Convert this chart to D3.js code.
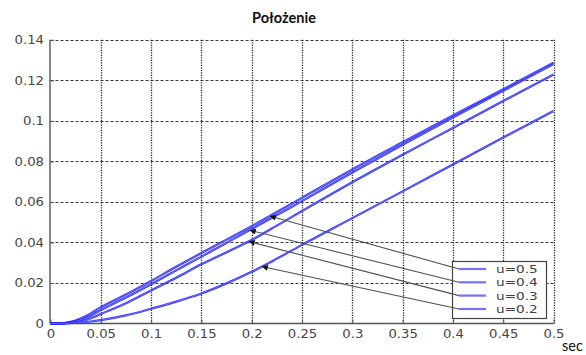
<!DOCTYPE html>
<html>
<head>
<meta charset="utf-8">
<script src="https://cdn.jsdelivr.net/npm/d3@7"></script>
<style>
  html, body { margin: 0; padding: 0; background: #fff; }
  svg { display: block; }
</style>
</head>
<body>
<svg id="chart" width="586" height="355"></svg>
<script>
// Time samples (s) and position series for each control value u
const timeSec = [0, 0.01, 0.02, 0.03, 0.04, 0.05, 0.075, 0.1, 0.125, 0.15, 0.175, 0.2, 0.225, 0.25, 0.3, 0.35, 0.4, 0.45, 0.5];
const posU05 = [0, 0.0001, 0.0008, 0.0025, 0.0050, 0.0080, 0.0143, 0.0210, 0.0280, 0.0348, 0.0414, 0.0480, 0.0550, 0.0620, 0.0760, 0.0894, 0.1026, 0.1156, 0.1287];
const posU04 = [0, 0.0001, 0.0006, 0.0018, 0.0038, 0.0066, 0.0128, 0.0194, 0.0262, 0.0330, 0.0398, 0.0466, 0.0535, 0.0604, 0.0745, 0.0882, 0.1016, 0.1148, 0.1280];
const posU03 = [0, 0, 0.0003, 0.0010, 0.0026, 0.0047, 0.0100, 0.0163, 0.0226, 0.0292, 0.0352, 0.0412, 0.0483, 0.0555, 0.0697, 0.0833, 0.0965, 0.1098, 0.1229];
const posU02 = [0, 0, 0.0002, 0.0005, 0.0010, 0.0017, 0.0040, 0.0073, 0.0108, 0.0148, 0.0198, 0.0255, 0.0320, 0.0388, 0.0520, 0.0652, 0.0785, 0.0918, 0.1049];

const legendLabels = ["u=0.5", "u=0.4", "u=0.3", "u=0.2"];
const seriesList = [posU05, posU04, posU03, posU02];
// time at which each legend callout points onto its curve
const calloutTime = [0.218, 0.198, 0.197, 0.21];

const xTicks = [0, 0.05, 0.1, 0.15, 0.2, 0.25, 0.3, 0.35, 0.4, 0.45, 0.5];
const yTicks = [0, 0.02, 0.04, 0.06, 0.08, 0.1, 0.12, 0.14];

const svg = d3.select("#chart");
const x = d3.scaleLinear().domain([0, 0.5]).range([50.5, 553.5]);
const y = d3.scaleLinear().domain([0, 0.14]).range([323.5, 39.8]);

const tickFont = "'DejaVu Sans', sans-serif";
const tickColor = "#454545";

// grid: dashed horizontals, dotted verticals
const grid = svg.append("g");
grid.selectAll("line.h").data(yTicks.filter(d => d > 0)).join("line")
  .attr("x1", x(0)).attr("x2", x(0.5))
  .attr("y1", d => Math.round(y(d)) + 0.5).attr("y2", d => Math.round(y(d)) + 0.5)
  .attr("stroke", "#3a3a3a").attr("stroke-width", 1.1)
  .attr("stroke-dasharray", "3,2");
grid.selectAll("line.v").data(xTicks.filter(d => d > 0)).join("line")
  .attr("x1", d => Math.round(x(d)) + 0.5).attr("x2", d => Math.round(x(d)) + 0.5)
  .attr("y1", y(0)).attr("y2", y(0.14))
  .attr("stroke", "#2a2a2a").attr("stroke-width", 1.3)
  .attr("stroke-dasharray", "1.2,1.3");

// axes
const xAxis = d3.axisBottom(x).tickValues(xTicks).tickSize(-4).tickPadding(8)
  .tickFormat(d => d === 0 ? "0" : String(+d.toFixed(2)));
const yAxis = d3.axisLeft(y).tickValues(yTicks).tickSize(-4).tickPadding(8)
  .tickFormat(d => d === 0 ? "0" : String(+d.toFixed(2)));

const gx = svg.append("g").attr("transform", `translate(0,${y(0)})`).call(xAxis);
const gy = svg.append("g").attr("transform", `translate(${x(0) - 0.5},0)`).call(yAxis);
[gx, gy].forEach(g => {
  g.select(".domain").attr("stroke", "#555").attr("stroke-width", 1.4);
  g.selectAll(".tick line").attr("stroke", "#555");
  g.selectAll(".tick text")
    .attr("font-family", tickFont).attr("font-size", 11.5)
    .attr("fill", tickColor);
});
gy.select(".domain").attr("d", `M0,${y(0)}V${y(0.14)}`);
gx.select(".domain").attr("d", `M${x(0)},0H${x(0.5)}`);
// widen the tick labels horizontally
gx.selectAll(".tick text").attr("transform", "scale(1.15,1)").attr("x", 0).attr("dy", "0.72em").attr("y", 6);
gy.selectAll(".tick text").each(function () {
  d3.select(this).attr("x", null).attr("text-anchor", "end")
    .attr("transform", "translate(-6,0) scale(1.15,1)");
});

// curves
const line = d3.line().x((d, i) => x(timeSec[i])).y(d => y(d)).curve(d3.curveMonotoneX);
const curves = svg.append("g");
seriesList.forEach(s => {
  curves.append("path").attr("d", line(s)).attr("fill", "none")
    .attr("stroke", "#1a1af8").attr("stroke-width", 2.2).attr("stroke-opacity", 0.9);
  curves.append("path").attr("d", line(s)).attr("fill", "none")
    .attr("stroke", "#b8b8ff").attr("stroke-width", 0.6).attr("stroke-opacity", 0.75);
});

// legend
const lg = { x0: 452, y0: 261, w: 94, h: 57, rowY: [269, 282.3, 295.6, 309] };
const sampleX1 = 459, sampleX2 = 486;

function valueAt(series, t) {
  const i = d3.bisectRight(timeSec, t) - 1;
  const t0 = timeSec[i], t1 = timeSec[i + 1];
  const f = (t - t0) / (t1 - t0);
  return series[i] + f * (series[i + 1] - series[i]);
}

// callout arrows from legend entries to the curves
const defs = svg.append("defs");
defs.append("marker").attr("id", "head")
  .attr("viewBox", "0 0 10 10").attr("refX", 10).attr("refY", 5)
  .attr("markerWidth", 9).attr("markerHeight", 6).attr("markerUnits", "userSpaceOnUse")
  .attr("orient", "auto")
  .append("path").attr("d", "M0,0L10,5L0,10Z").attr("fill", "#111");

const arrows = svg.append("g");
legendLabels.forEach((lab, i) => {
  const tx = x(calloutTime[i]);
  const ty = y(valueAt(seriesList[i], calloutTime[i]));
  arrows.append("line")
    .attr("x1", sampleX1).attr("y1", lg.rowY[i])
    .attr("x2", tx).attr("y2", ty)
    .attr("stroke", "#505050").attr("stroke-width", 1.1)
    .attr("marker-end", "url(#head)");
});

const legend = svg.append("g");
legend.append("rect")
  .attr("x", lg.x0 + 0.5).attr("y", lg.y0 + 0.5).attr("width", lg.w).attr("height", lg.h)
  .attr("fill", "#fff").attr("stroke", "#444").attr("stroke-width", 1.2);
legendLabels.forEach((lab, i) => {
  legend.append("line")
    .attr("x1", sampleX1).attr("x2", sampleX2)
    .attr("y1", lg.rowY[i]).attr("y2", lg.rowY[i])
    .attr("stroke", "#7373ff").attr("stroke-width", 2.2);
  legend.append("text")
    .attr("transform", `translate(496,${lg.rowY[i] + 4}) scale(1.24,1)`)
    .attr("font-family", tickFont).attr("font-size", 11)
    .attr("fill", "#404040").text(lab);
});
// callout start segments drawn over the legend box
legendLabels.forEach((lab, i) => {
  const tx = x(calloutTime[i]);
  const ty = y(valueAt(seriesList[i], calloutTime[i]));
  const dx = tx - sampleX1, dy = ty - lg.rowY[i];
  const k = (lg.x0 - sampleX1) / dx;
  legend.append("line")
    .attr("x1", sampleX1).attr("y1", lg.rowY[i])
    .attr("x2", lg.x0).attr("y2", lg.rowY[i] + dy * k)
    .attr("stroke", "#505050").attr("stroke-width", 1.1);
});

// title and unit label
svg.append("text").attr("x", 284).attr("y", 23).attr("text-anchor", "middle")
  .attr("font-family", "Lato, 'Open Sans', sans-serif").attr("font-weight", "bold")
  .attr("font-size", 14.5).attr("fill", "#111").text("Położenie");
svg.append("text").attr("x", 562).attr("y", 351)
  .attr("font-family", "Lato, 'Open Sans', sans-serif")
  .attr("font-size", 14.5).attr("fill", "#111").text("sec");
</script>
</body>
</html>
